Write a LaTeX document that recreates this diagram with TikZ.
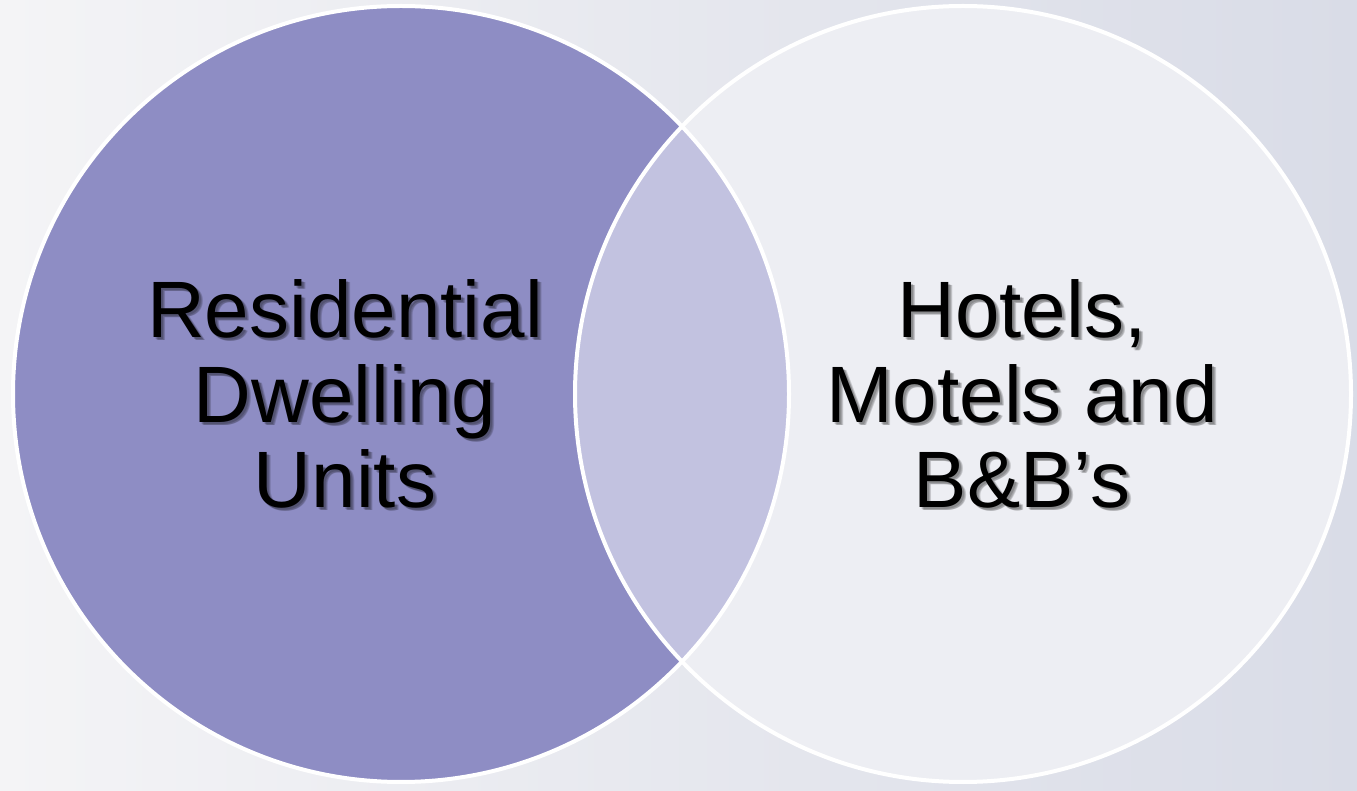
\documentclass[tikz,border=0pt]{standalone}
\usepackage{fontspec}
\setmainfont{Liberation Sans}
\usepackage{tikz}

\definecolor{bgleft}{RGB}{244,244,246}
\definecolor{bgright}{RGB}{217,220,231}
\definecolor{residfill}{RGB}{142,141,196}
\definecolor{hotelfill}{RGB}{237,238,243}
\definecolor{lensfill}{RGB}{194,194,224}

\begin{document}
\begin{tikzpicture}[
    x=1pt, y=1pt,
    every node/.style={anchor=center, align=center, inner sep=0pt, font=\fontsize{80}{85}\selectfont},
    set/.style={draw=white, line width=4pt},
    label/.style={text=black},
    shadow/.style={text=black, fill opacity=0.16}
    ]

    % background
    \shade[left color=bgleft, right color=bgright] (0,0) rectangle (1357,790);
    \useasboundingbox (0,0) rectangle (1357,790);

    \coordinate (resid) at (401,396);
    \coordinate (hotel) at (963,396);

    % the two sets and their overlap
    \fill[residfill] (resid) circle (388);
    \fill[hotelfill] (hotel) circle (388);
    \begin{scope}
        \clip (resid) circle (388);
        \fill[lensfill] (hotel) circle (388);
    \end{scope}
    \draw[set] (resid) circle (388);
    \draw[set] (hotel) circle (388);

    % labels, with a soft shadow
    \foreach \dx/\dy [count=\i] in {2/-2, 3/-3, 4/-3}{
        \node[shadow] (resid-sh\i) at (345+\dx,396+\dy) {Residential\\Dwelling\\Units};
        \node[shadow] (hotel-sh\i) at (1022+\dx,396+\dy) {Hotels,\\Motels and\\B\&B’s};
    }
    \node[label] (resid-txt) at (345,396) {Residential\\Dwelling\\Units};
    \node[label] (hotel-txt) at (1022,396) {Hotels,\\Motels and\\B\&B’s};

\end{tikzpicture}
\end{document}
